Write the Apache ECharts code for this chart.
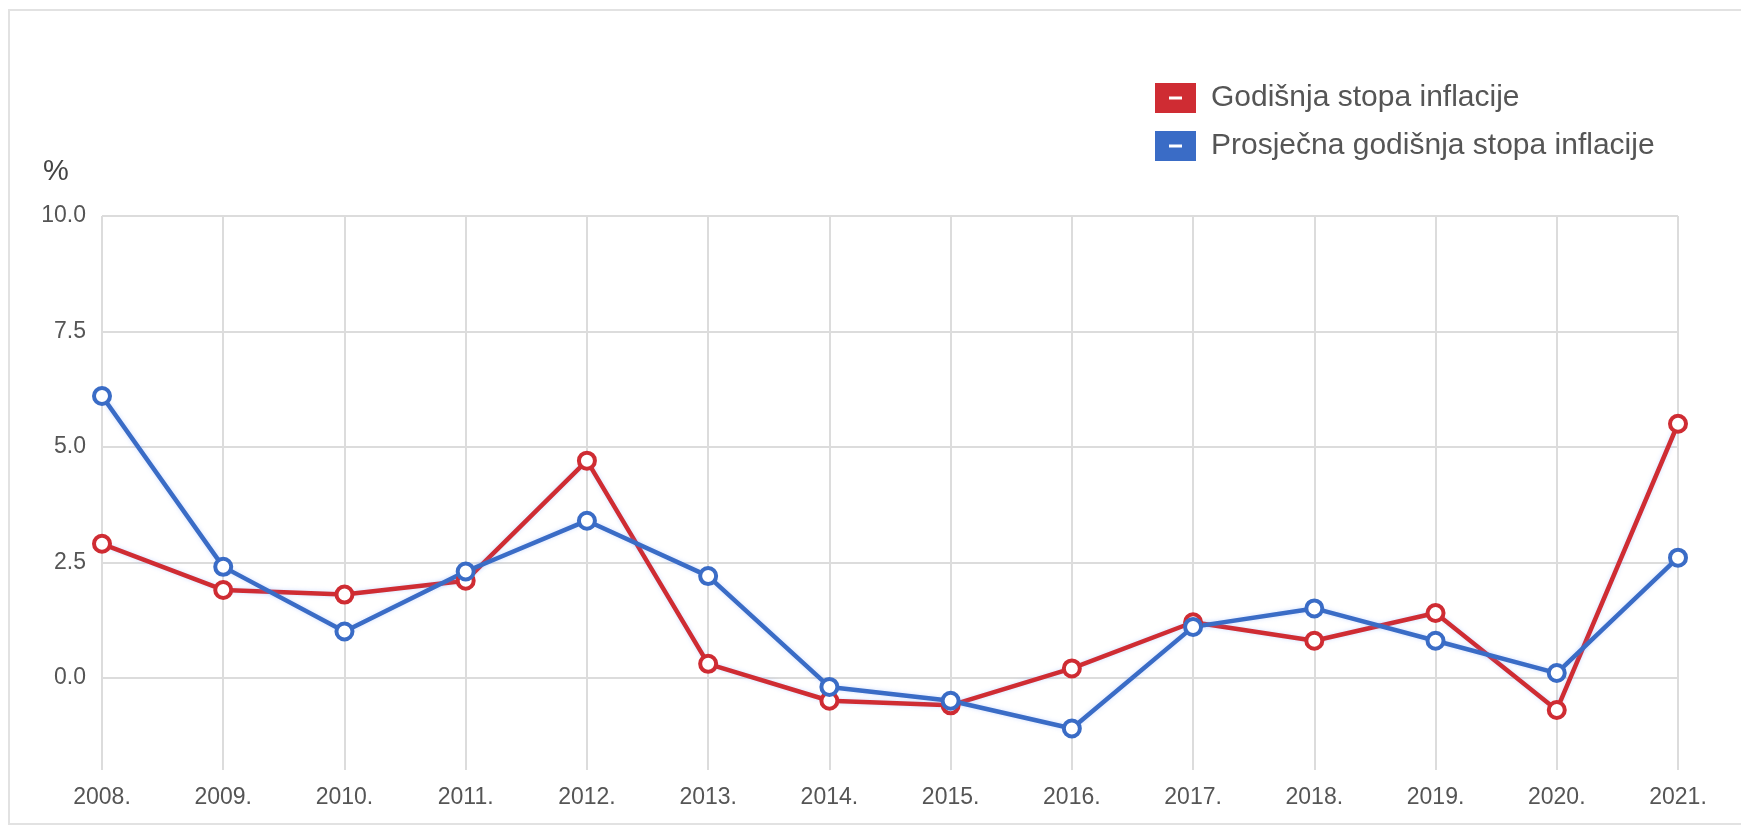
<!DOCTYPE html>
<html>
<head>
<meta charset="utf-8">
<script src="https://cdn.jsdelivr.net/npm/echarts@6/dist/echarts.min.js"></script>
<style>
html,body{margin:0;padding:0;background:#fff;width:1741px;height:837px;overflow:hidden;}
#frame{position:absolute;left:8px;top:9px;width:1800px;height:816px;border:2px solid #e2e2e2;border-right:none;box-sizing:border-box;}
#chart{position:absolute;left:0;top:0;width:1741px;height:837px;}
</style>
</head>
<body>
<div id="frame"></div>
<div id="chart"></div>
<script>
var years = ['2008.','2009.','2010.','2011.','2012.','2013.','2014.','2015.','2016.','2017.','2018.','2019.','2020.','2021.'];
var annualRate = [2.9, 1.9, 1.8, 2.1, 4.7, 0.3, -0.5, -0.6, 0.2, 1.2, 0.8, 1.4, -0.7, 5.5];
var averageRate = [6.1, 2.4, 1.0, 2.3, 3.4, 2.2, -0.2, -0.5, -1.1, 1.1, 1.5, 0.8, 0.1, 2.6];
var yTicks = [0, 2.5, 5, 7.5, 10];
var seriesNames = ['Godišnja stopa inflacije', 'Prosječna godišnja stopa inflacije'];

var RED = '#cf2c33';
var BLUE = '#3a6cc6';
var FONT = '"Liberation Sans", Arial, sans-serif';
var iconPath = 'path://M0,0L41,0L41,30L0,30Z M14,13.5L14,16.5L27,16.5L27,13.5Z';

function mkSeries(name, data, color) {
  return {
    name: name,
    type: 'line',
    data: data,
    symbol: 'circle',
    symbolSize: 16,
    showSymbol: true,
    z: 3,
    lineStyle: { color: color, width: 4.5, shadowColor: 'rgba(120,160,255,0.35)', shadowBlur: 4 },
    itemStyle: { color: '#ffffff', borderColor: color, borderWidth: 4 },
    emphasis: { disabled: true },
    animation: false
  };
}

var chart = echarts.init(document.getElementById('chart'), null, { renderer: 'canvas' });
chart.setOption({
  backgroundColor: 'transparent',
  animation: false,
  title: {
    text: '%',
    left: 38,
    top: 152,
    textStyle: { fontFamily: FONT, fontSize: 29, fontWeight: 'normal', color: '#444' }
  },
  legend: {
    orient: 'vertical',
    left: 1150,
    top: 78,
    itemWidth: 41,
    itemHeight: 30,
    itemGap: 18,
    selectedMode: false,
    textStyle: { fontFamily: FONT, fontSize: 30, color: '#555', padding: [0, 0, 0, 10] },
    data: [
      { name: seriesNames[0], icon: iconPath, itemStyle: { color: RED, borderWidth: 0 } },
      { name: seriesNames[1], icon: iconPath, itemStyle: { color: BLUE, borderWidth: 0 } }
    ]
  },
  grid: { left: 102, right: 63, top: 216, bottom: 67, containLabel: false },
  xAxis: {
    type: 'category',
    data: years,
    boundaryGap: false,
    axisLine: { show: false },
    axisTick: { show: false },
    axisLabel: { fontFamily: FONT, fontSize: 23, color: '#555', margin: 16 },
    splitLine: { show: true, lineStyle: { color: '#dcdcdc', width: 2 } }
  },
  yAxis: {
    type: 'value',
    min: -2,
    max: 10,
    axisLine: { show: false },
    axisTick: { show: false, customValues: yTicks },
    axisLabel: {
      fontFamily: FONT, fontSize: 23, color: '#555', margin: 16,
      customValues: yTicks,
      formatter: function (v) { return v.toFixed(1); }
    },
    splitLine: { show: true, lineStyle: { color: '#dcdcdc', width: 2 } }
  },
  series: [
    mkSeries(seriesNames[0], annualRate, RED),
    mkSeries(seriesNames[1], averageRate, BLUE)
  ]
});
</script>
</body>
</html>
